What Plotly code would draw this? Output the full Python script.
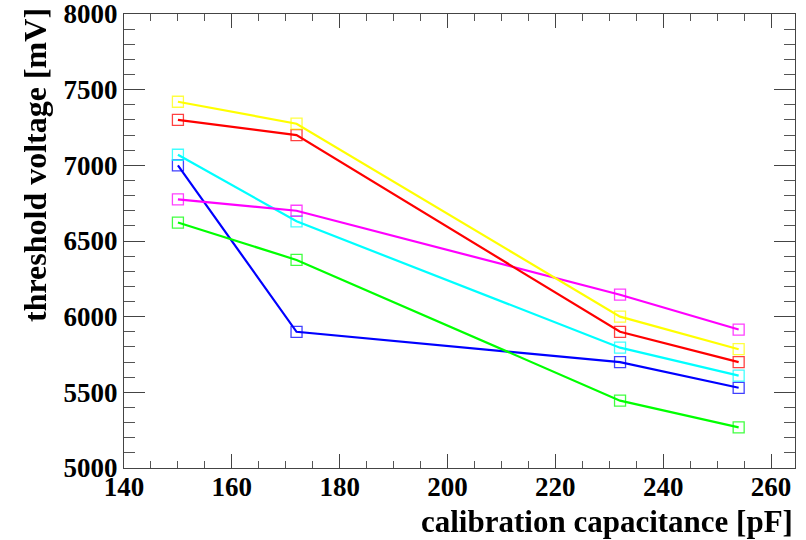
import plotly.graph_objects as go

# Calibration capacitance (pF) and measured thresholds (mV) per channel
capacitance = [150, 172, 232, 254]
thr_red = [7300, 7200, 5900, 5700]
thr_yellow = [7420, 7275, 6000, 5785]
thr_cyan = [7070, 6630, 5795, 5610]
thr_blue = [7000, 5900, 5700, 5530]
thr_magenta = [6775, 6700, 6145, 5915]
thr_green = [6622, 6375, 5445, 5268]

series = [
    (thr_blue, "#0000ff"),
    (thr_green, "#00ff00"),
    (thr_cyan, "#00ffff"),
    (thr_magenta, "#ff00ff"),
    (thr_red, "#ff0000"),
    (thr_yellow, "#ffff00"),
]

x_range = [140, 264.45]
y_range = [5000, 8000]
x_ticks = [140, 160, 180, 200, 220, 240, 260]
y_ticks = [5000, 5500, 6000, 6500, 7000, 7500, 8000]

fig = go.Figure()
for vals, col in series:
    fig.add_trace(go.Scatter(
        x=capacitance, y=vals, mode="lines",
        line=dict(color=col, width=2.2),
        showlegend=False, hoverinfo="skip",
    ))
for vals, col in series:
    fig.add_trace(go.Scatter(
        x=capacitance, y=vals, mode="markers",
        marker=dict(symbol="square-open", size=11, color=col,
                    line=dict(color=col, width=1.3)),
        opacity=0.75, showlegend=False, hoverinfo="skip",
    ))

font_ax = dict(family="Liberation Serif", size=27, color="black")

axis_common = dict(
    showgrid=False, zeroline=False, showline=True, linecolor="#444444",
    linewidth=1, mirror="ticks", ticks="inside", tickcolor="#444444",
    tickwidth=1, tickfont=font_ax, automargin=False,
    ticklabeloverflow="allow",
)

fig.update_xaxes(range=x_range, tickvals=x_ticks,
                 ticktext=[f"<b>{v}</b>" for v in x_ticks], ticklen=14,
                 ticklabelstandoff=-5,
                 minor=dict(dtick=5, tick0=140, ticks="inside", ticklen=7,
                            tickcolor="#555555", showgrid=False),
                 **axis_common)
fig.update_yaxes(range=y_range, tickvals=y_ticks,
                 ticktext=[f"<b>{v}</b>" for v in y_ticks], ticklen=21,
                 minor=dict(dtick=100, tick0=5000, ticks="inside", ticklen=11,
                            tickcolor="#555555", showgrid=False),
                 **axis_common)

fig.add_annotation(
    text="<b>calibration capacitance [pF]</b>", xref="paper", yref="paper",
    x=1, y=0, xanchor="right", yanchor="top", yshift=-34, showarrow=False,
    font=dict(family="Liberation Serif", size=31, color="black"),
)
fig.add_annotation(
    text="<b>threshold voltage [mV]</b>", xref="paper", yref="paper",
    x=0, y=1, xanchor="center", yanchor="top", xshift=-89, yshift=8,
    textangle=-90, showarrow=False,
    font=dict(family="Liberation Serif", size=32, color="black"),
)

fig.update_layout(
    width=806, height=540,
    margin=dict(l=124, r=11, t=14, b=72, autoexpand=False),
    paper_bgcolor="white", plot_bgcolor="white",
)

fig.write_html("out.html")
